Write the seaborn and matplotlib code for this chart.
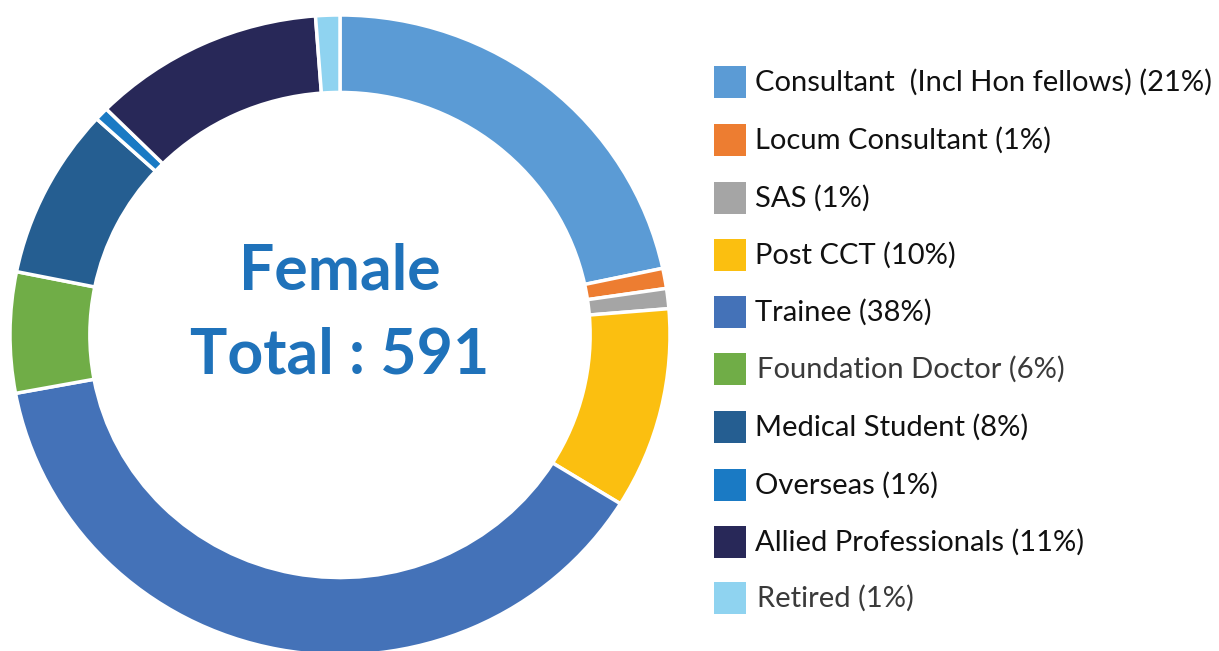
import matplotlib
matplotlib.use("Agg")
import matplotlib.pyplot as plt
import seaborn as sns
from matplotlib.patches import Rectangle

sns.set_theme(style="white")
plt.rcParams['font.family'] = ['Lato', 'DejaVu Sans']

categories = ["Consultant", "Locum Consultant", "SAS", "Post CCT", "Trainee",
              "Foundation Doctor", "Medical Student", "Overseas",
              "Allied Professionals", "Retired"]
counts = [128, 6, 6, 60, 226, 36, 51, 4, 67, 7]
legend_labels = ["Consultant  (Incl Hon fellows) (21%)", "Locum Consultant (1%)",
                 "SAS (1%)", "Post CCT (10%)", "Trainee (38%)",
                 "Foundation Doctor (6%)", "Medical Student (8%)", "Overseas (1%)",
                 "Allied Professionals (11%)", "Retired (1%)"]
light_labels = ["Foundation Doctor", "Retired"]
colors = ["#5B9BD5", "#ED7D31", "#A5A5A5", "#FBBF10", "#4472B8",
          "#70AD47", "#255E91", "#1A7AC4", "#282858", "#8FD3F0"]
center_title = "Female"
center_total = "Total : 591"

W, H = 1219, 651
fig = plt.figure(figsize=(W / 100, H / 100), dpi=100)
fig.patch.set_facecolor("white")

# donut axes: center (340,335) px, radii 330 x 320 px (slightly wide ellipse)
cx, cy, rx, ry = 340, 335, 330, 320
ax = fig.add_axes([(cx - rx) / W, (H - cy - ry) / H, 2 * rx / W, 2 * ry / H])

wedges, _ = ax.pie(counts, colors=colors, startangle=90, counterclock=False,
                   radius=1.0, wedgeprops=dict(width=0.242, edgecolor="white", linewidth=2.5))
for w in wedges:
    w.set_clip_on(False)
ax.set_aspect("auto")
ax.set_xlim(-1, 1)
ax.set_ylim(-1, 1)
ax.axis("off")

ax.text(0, (cy - 272) / ry, center_title, ha="center", va="center",
        fontsize=45, fontweight="bold", color="#1F72BA")
ax.text(0, (cy - 356) / ry, center_total, ha="center", va="center",
        fontsize=45, fontweight="bold", color="#1F72BA")

# legend
row_y = [82, 140, 198, 255, 312, 369, 427, 485, 542, 598]
for cat, lab, col, y in zip(categories, legend_labels, colors, row_y):
    sq = 32
    fig.add_artist(Rectangle(((714) / W, (H - y - sq / 2) / H), sq / W, sq / H,
                             transform=fig.transFigure, facecolor=col, edgecolor="none"))
    light = cat in light_labels
    fig.text((757 if light else 755) / W, (H - y) / H, lab, ha="left", va="center",
             fontsize=21, color="#3a3a3a" if light else "#111111",
             fontweight="normal")

fig.savefig("out.png", dpi=100, facecolor="white")
